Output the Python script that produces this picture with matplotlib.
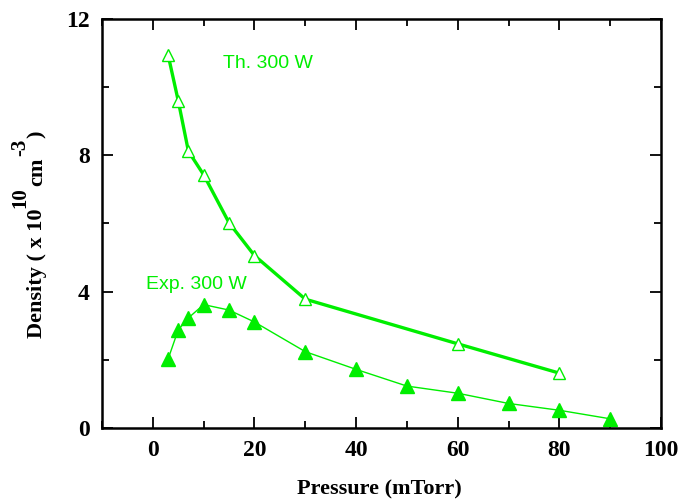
import matplotlib
matplotlib.use("Agg")
import matplotlib.pyplot as plt
from matplotlib.ticker import MultipleLocator

# theory, 300 W (open triangles)
th_pressure = [3, 5, 7, 10, 15, 20, 30, 60, 80]
th_density = [10.95, 9.6, 8.12, 7.43, 6.02, 5.06, 3.78, 2.47, 1.61]

# experiment, 300 W (filled triangles)
exp_pressure = [3, 5, 7, 10, 15, 20, 30, 40, 50, 60, 70, 80, 90]
exp_density = [2.02, 2.88, 3.23, 3.62, 3.46, 3.11, 2.24, 1.72, 1.23, 1.02, 0.72, 0.52, 0.27]

green = '#00ee00'

plt.rcParams['font.family'] = ['Liberation Serif', 'DejaVu Serif']

fig = plt.figure(figsize=(6.81, 5.04), dpi=100)
ax = fig.add_axes([0.1498, 0.1508, 0.8208, 0.8115])

ax.plot(th_pressure, th_density, '-', color=green, lw=2.4, marker='^',
        ms=9, mfc='white', mec=green, mew=1.0)
ax.plot(exp_pressure, exp_density, '-', color=green, lw=1.0, marker='^',
        ms=9.5, mfc=green, mec=green)

ax.text(13.8, 10.7, 'Th. 300 W', color=green, fontsize=14,
        family='Liberation Sans', va='center')
ax.text(-1.4, 4.2, 'Exp. 300 W', color=green, fontsize=14,
        family='Liberation Sans', va='center')

ax.set_xlim(-10, 100)
ax.set_ylim(0, 12)
ax.xaxis.set_major_locator(MultipleLocator(20))
ax.xaxis.set_minor_locator(MultipleLocator(10))
ax.yaxis.set_major_locator(MultipleLocator(4))
ax.yaxis.set_minor_locator(MultipleLocator(2))
ax.tick_params(which='both', direction='in', top=True, right=True, width=1.3)
ax.tick_params(which='major', length=8, labelsize=17, pad=9)
ax.tick_params(which='minor', length=5)
for lab in ax.get_xticklabels() + ax.get_yticklabels():
    lab.set_fontweight('bold')
for sp in ax.spines.values():
    sp.set_linewidth(1.8)

fig.text(0.557, 0.028, 'Pressure (mTorr)', fontsize=16, fontweight='bold',
         ha='center', va='center')

# y label drawn piece by piece: full-size raised exponents as in the original
W, H = 681, 504
renderer = fig.canvas.get_renderer()
pieces = [('Density ( x 10', 0, 16), ('10', 17, 15), ('cm', 0, 16),
          ('-3', 17, 15), (')', 0, 16)]
ypos = H - 338
for txt, raise_px, size in pieces:
    t = fig.text((42 - raise_px) / W, ypos / H, txt, rotation=90,
                 rotation_mode='anchor', ha='left', va='baseline',
                 fontsize=size, fontweight='bold')
    bb = t.get_window_extent(renderer)
    ypos = bb.y1 + 1

fig.savefig('out.png', dpi=100)
